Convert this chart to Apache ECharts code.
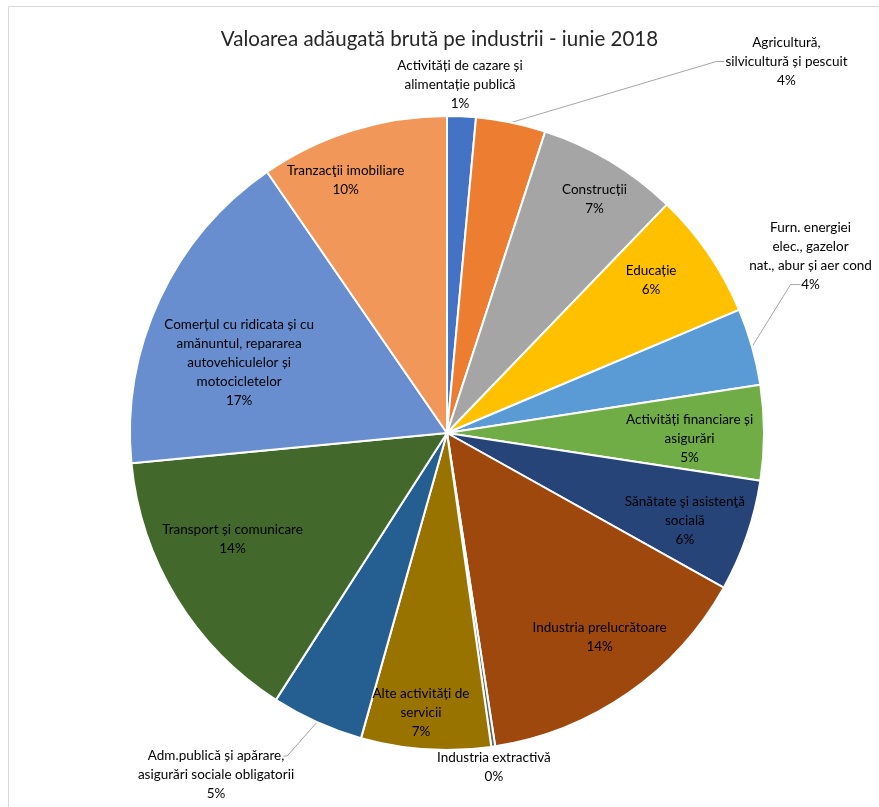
<!DOCTYPE html>
<html>
<head>
<meta charset="utf-8">
<script src="https://cdn.jsdelivr.net/npm/echarts@6/dist/echarts.min.js"></script>
<style>
html,body{margin:0;padding:0;background:#ffffff;}
#c{width:879px;height:807px;}
</style>
</head>
<body>
<div id="c"></div>
<script>
// ---- data ----
const categories = [
  "Activități de cazare și\nalimentație publică",
  "Agricultură,\nsilvicultură și pescuit",
  "Construcții",
  "Educație",
  "Furn. energiei\nelec., gazelor\nnat., abur și aer cond",
  "Activități financiare și\nasigurări",
  "Sănătate şi asistenţă\nsocială",
  "Industria prelucrătoare",
  "Industria extractivă",
  "Alte activități de\nservicii",
  "Adm.publică și apărare,\nasigurări sociale obligatorii",
  "Transport și comunicare",
  "Comerțul cu ridicata și cu\namănuntul, repararea\nautovehiculelor și\nmotocicletelor",
  "Tranzacţii imobiliare"
];
const values = [1.46, 3.55, 7.18, 6.45, 3.92, 4.83, 5.70, 14.45, 0.2, 6.6, 4.7, 14.4, 16.9, 9.6];
const colors = ["#4472C4", "#ED7D31", "#A5A5A5", "#FFC000", "#5B9BD5", "#70AD47", "#264478",
                "#9E480E", "#636363", "#997300", "#255E91", "#43682B", "#698ED0", "#F1975A"];
const titleText = "Valoarea adăugată brută pe industrii - iunie 2018";

// ---- layout / style ----
const CX = 447, CY = 433, R = 317;
const outsideIdx = [0, 1, 4, 8, 10];
const withLine = [1, 4, 10];
const labelShift = [[-3,0],[269,-30],[17,-16],[-5,-9],[28,-82],[-11,6],[-2,5],[8,-4],[-4,-11],[-9,27],[-88,24],[2,-26],[22,37],[-26,-11]];

const total = values.reduce((a, b) => a + b, 0);
const mids = [];
(function(){ let acc = 0; values.forEach(v => { mids.push((acc + v / 2) / total * 2 * Math.PI); acc += v; }); })();

const data = values.map((v, i) => {
  const item = { name: categories[i], value: v, itemStyle: { color: colors[i] } };
  if (outsideIdx.indexOf(i) >= 0) {
    item.label = { position: 'outside' };
    item.labelLine = { show: withLine.indexOf(i) >= 0 };
  } else {
    item.label = { position: 'inside' };
  }
  return item;
});

const chart = echarts.init(document.getElementById('c'), null, { renderer: 'canvas' });
const FONT = 'Lato, "Open Sans", sans-serif';

chart.setOption({
  animation: false,
  backgroundColor: '#ffffff',
  title: {
    text: titleText,
    left: 'center',
    top: 24,
    textStyle: { fontFamily: FONT, fontSize: 20.5, fontWeight: 'normal', color: '#262626' }
  },
  graphic: [{
    type: 'rect',
    shape: { x: 8.5, y: 6.5, width: 1000, height: 1000 },
    style: { fill: 'none', stroke: '#d9d9d9', lineWidth: 1 },
    silent: true, z: -1
  }],
  series: [{
    type: 'pie',
    center: [CX, CY],
    radius: R,
    startAngle: 90,
    clockwise: true,
    avoidLabelOverlap: false,
    data: data,
    itemStyle: { borderColor: '#ffffff', borderWidth: 2 },
    label: {
      show: true,
      color: '#000000',
      fontFamily: FONT,
      fontSize: 13.5,
      lineHeight: 19,
      align: 'center',
      formatter: p => categories[p.dataIndex] + '\n' + Math.round(p.value / total * 100) + '%'
    },
    labelLine: { show: false, lineStyle: { color: '#a6a6a6', width: 1 }, length: 10, length2: 10 },
    labelLayout: function (p) {
      const i = p.dataIndex;
      const a = mids[i];
      const k = outsideIdx.indexOf(i) >= 0 ? 1.1 : 0.8;
      const x = CX + R * k * Math.sin(a) + labelShift[i][0];
      const y = CY - R * k * Math.cos(a) + labelShift[i][1];
      const w = p.labelRect.width, h = p.labelRect.height;
      const res = { x: x, y: y, align: 'center', verticalAlign: 'middle' };
      if (withLine.indexOf(i) >= 0) {
        const edge = [CX + R * Math.sin(a), CY - R * Math.cos(a)];
        let end, bend;
        if (i === 1) {
          end = [x - w / 2 - 1, y];
          bend = [end[0] - 8, end[1]];
        } else if (i === 4) {
          end = [x - 10, y + h / 2 - 9.5];
          bend = [end[0] - 10, end[1]];
        } else {
          end = [x + w / 2 - 11, y - h / 2 + 9.5];
          bend = [end[0] + 4, end[1]];
        }
        res.labelLinePoints = [edge, bend, end];
      }
      return res;
    }
  }]
});
</script>
</body>
</html>
